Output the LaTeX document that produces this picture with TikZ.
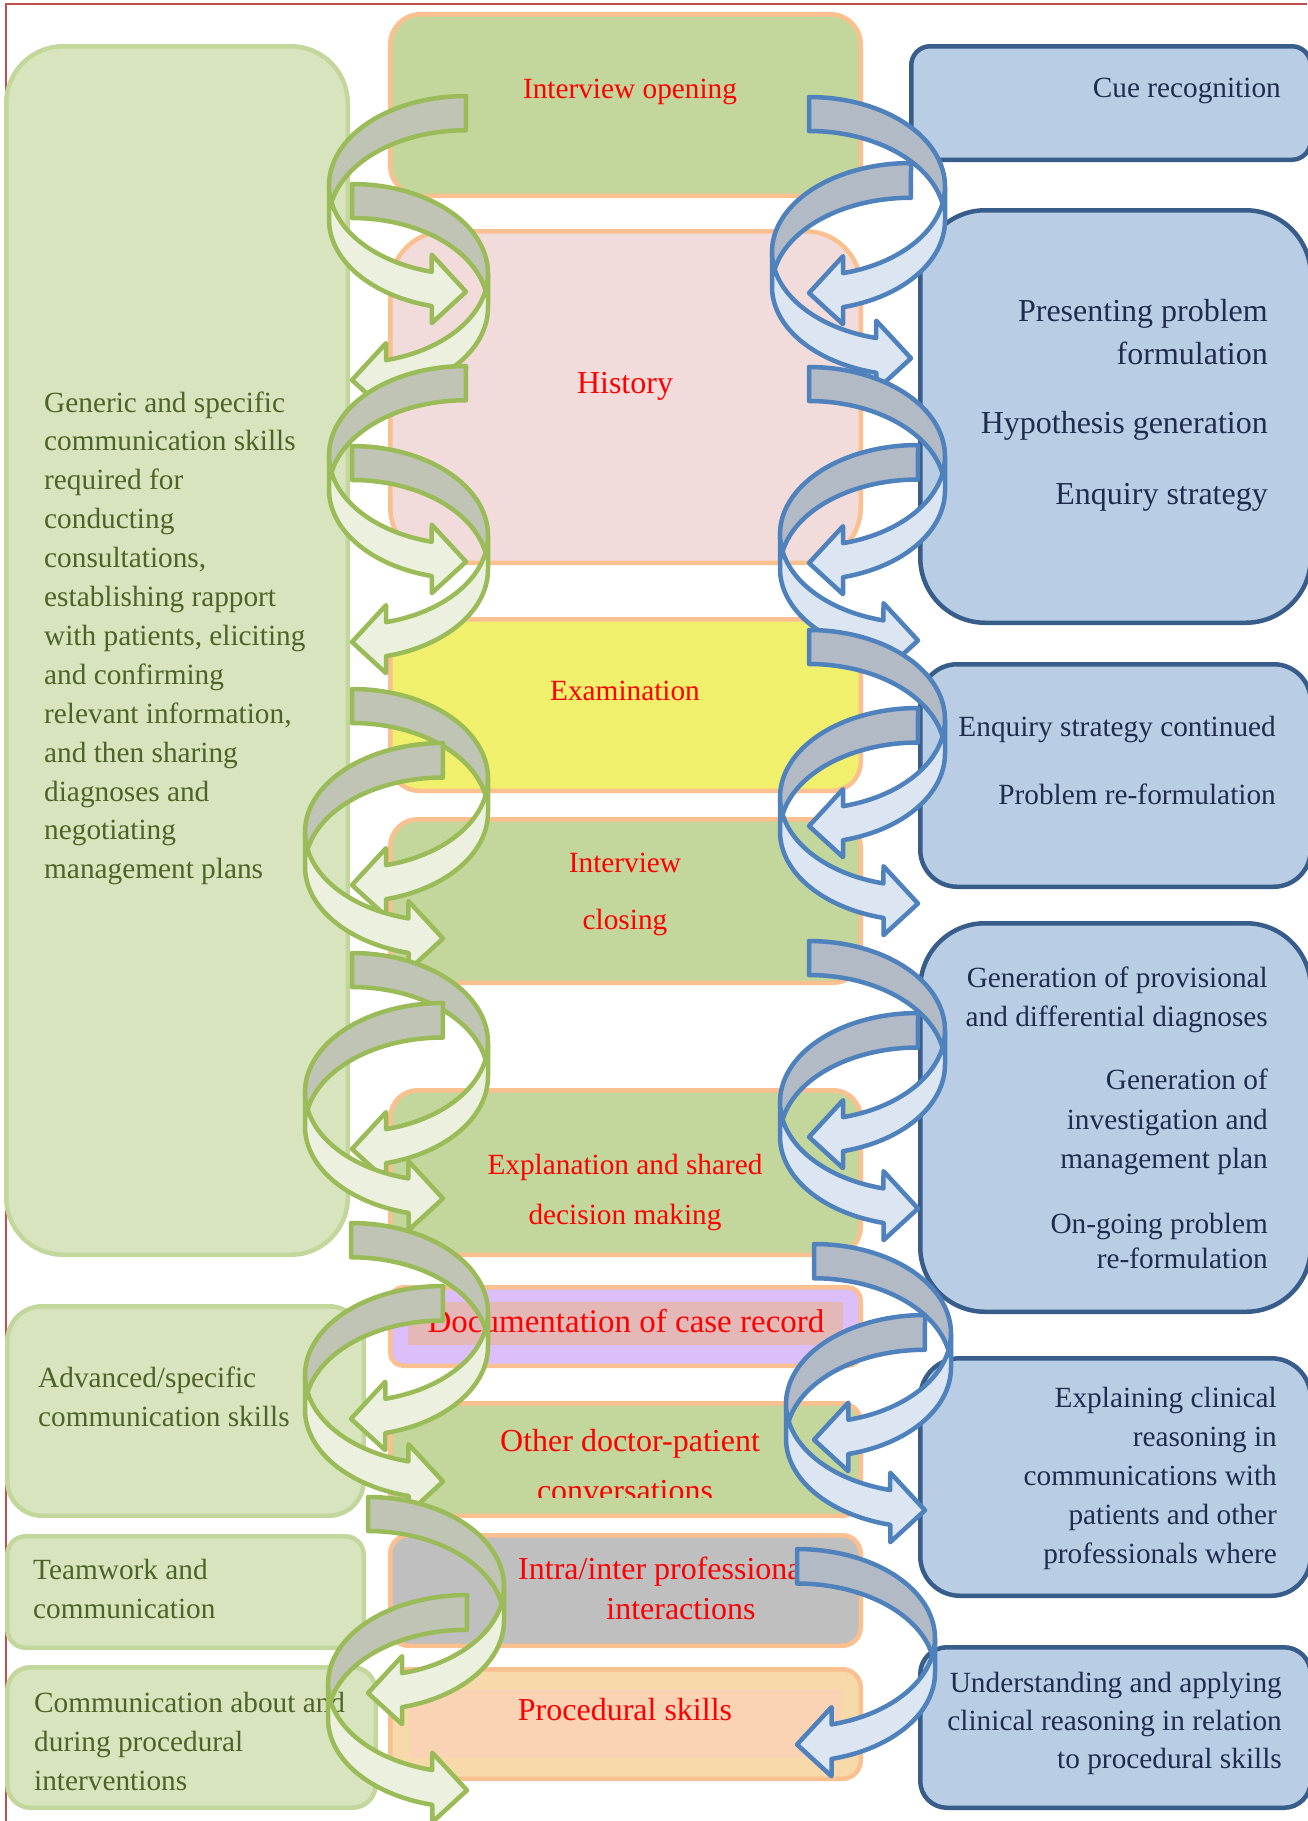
\documentclass[tikz,border=0pt]{standalone}
\usepackage{fontspec}
\setmainfont{Liberation Serif}
\definecolor{frameRed}{HTML}{C0504D}
\definecolor{lgFill}{HTML}{D7E4BD}
\definecolor{lgBorder}{HTML}{C3D69B}
\definecolor{lgText}{HTML}{4F6228}
\definecolor{cBorder}{HTML}{FAC090}
\definecolor{cGreen}{HTML}{C3D69B}
\definecolor{cPink}{HTML}{F2DCDB}
\definecolor{cYellow}{HTML}{F0F06C}
\definecolor{cLav}{HTML}{DCBEFA}
\definecolor{cLavIn}{HTML}{E5B8B8}
\definecolor{cGrey}{HTML}{BFBFBF}
\definecolor{cPeach}{HTML}{F8D9A9}
\definecolor{cPeachIn}{HTML}{FAD3B5}
\definecolor{rbFill}{HTML}{B9CDE5}
\definecolor{rbBorder}{HTML}{385D8A}
\definecolor{rbText}{HTML}{1F2D4D}
\definecolor{gF}{HTML}{EBF1DE}
\definecolor{gB}{HTML}{BFC4B4}
\definecolor{gL}{HTML}{9BBB59}
\definecolor{bF}{HTML}{DCE6F2}
\definecolor{bB}{HTML}{B1BAC5}
\definecolor{bL}{HTML}{4F81BD}
\newcommand{\fntA}{\fontsize{29.3}{35}\selectfont}
\newcommand{\fntB}{\fontsize{32}{38}\selectfont}
\newcommand{\fntC}{\fontsize{33}{39}\selectfont}
\tikzset{
 lbox/.style={draw=lgBorder, line width=4.5pt, inner sep=0pt},
 cbox/.style={draw=cBorder, line width=4.5pt, inner sep=0pt},
 rbox/.style={draw=rbBorder, line width=4.5pt, inner sep=0pt},
 ltxt/.style={text=lgText, inner sep=0pt, font=\fntA},
 ctxt/.style={text=red, inner sep=0pt, font=\fntA},
 rtxt/.style={text=rbText, inner sep=0pt, font=\fntA},
 arrline/.style={line width=4.5pt, line join=round},
}
% box node: style, fill, name, x1, y1, x2, y2 (visible extents, px)
\newcommand{\boxnode}[7]{%
 \pgfmathsetmacro\bxW{#6-#4-4.5}%
 \pgfmathsetmacro\bxH{#7-#5-4.5}%
 \pgfmathsetmacro\bxR{min(\bxW,\bxH)/6}%
 \node[#1, fill=#2, minimum width=\bxW pt, minimum height=\bxH pt, rounded corners=\bxR pt] (#3) at ({(#4+#6)/2},{(#5+#7)/2}) {};}
% curved ribbon arrow: tip x C, sign s, top T, width W, height H, colour prefix
\newcommand{\curvarrow}[6]{%
\begingroup
 \pgfmathsetmacro\aTh{0.25*#4}%
 \pgfmathsetmacro\aAw{0.5*#4}%
 \pgfmathsetmacro\aAh{0.25*#4}%
 \pgfmathsetmacro\aHR{#5/2-(\aTh+\aAw)/4}%
 \pgfmathsetmacro\aDy{\aHR*sqrt(1-(\aAh/#4)^2)}%
 \pgfmathsetmacro\aYa{#3+\aHR}%
 \pgfmathsetmacro\aYb{\aYa+\aTh}%
 \pgfmathsetmacro\aYfive{\aYa+\aDy}%
 \pgfmathsetmacro\aYseven{\aYb+\aDy}%
 \pgfmathsetmacro\aDh{(\aAw-\aTh)/2}%
 \pgfmathsetmacro\aYfour{\aYfive-\aDh}%
 \pgfmathsetmacro\aYeight{\aYseven+\aDh}%
 \pgfmathsetmacro\aYsix{#3+#5-\aAw/2}%
 \pgfmathsetmacro\aXone{#1-(#2)*\aAh}%
 \pgfmathsetmacro\aThn{180-acos(\aAh/#4)}%
 \pgfmathsetmacro\aPhi{asin(\aTh/(2*\aHR))}%
 \pgfmathsetmacro\aXl{#1-(#2)*#4}%
 \filldraw[arrline, draw=#6L, fill=#6F]
   (\aXl,\aYa) -- plot[domain=0:1,samples=40] ({#1+(#2)*#4*cos(180-\x*(180-\aThn))},{\aYa+\aHR*sin(180-\x*(180-\aThn))})
   -- (\aXone,\aYfour) -- (#1,\aYsix) -- (\aXone,\aYeight) -- (\aXone,\aYseven)
   -- plot[domain=0:1,samples=40] ({#1+(#2)*#4*cos(\aThn+\x*(180-\aThn))},{\aYb+\aHR*sin(\aThn+\x*(180-\aThn))})
   -- cycle;
 \filldraw[arrline, draw=#6L, fill=#6B]
   plot[domain=0:1,samples=40] ({#1+(#2)*#4*cos(270-\x*(90+\aPhi))},{\aYa+\aHR*sin(270-\x*(90+\aPhi))})
   -- plot[domain=0:1,samples=40] ({#1+(#2)*#4*cos(180+\aPhi+\x*(90-\aPhi))},{\aYb+\aHR*sin(180+\aPhi+\x*(90-\aPhi))})
   -- cycle;
\endgroup}
\begin{document}
\begin{tikzpicture}[x=1pt,y=-1pt]
\useasboundingbox (0,0) rectangle (1307,1821);
\fill[white] (0,0) rectangle (1307,1821);
\draw[frameRed, line width=2.5pt] (6,1821) -- (6,4) -- (1307,4);

% left boxes
\boxnode{lbox}{lgFill}{L1}{4}{44}{350}{1257}
\boxnode{lbox}{lgFill}{L2}{5}{1304}{366}{1518}
\boxnode{lbox}{lgFill}{L3}{5}{1534}{366}{1650}
\boxnode{lbox}{lgFill}{L4}{5}{1665}{378}{1810}
% centre boxes
\boxnode{cbox}{cGreen}{C1}{388}{12}{863}{198}
\boxnode{cbox}{cPink}{C2}{388}{229}{863}{565}
\boxnode{cbox}{cYellow}{C3}{388}{617}{863}{793}
\boxnode{cbox}{cGreen}{C4}{388}{817}{863}{985}
\boxnode{cbox}{cGreen}{C5}{388}{1088}{863}{1257}
\boxnode{cbox}{cLav}{C6}{388}{1285}{863}{1368}
\fill[cLavIn] (408,1302) rectangle (843,1345);
\boxnode{cbox}{cGreen}{C7}{388}{1401}{863}{1518}
\boxnode{cbox}{cGrey}{C8}{388}{1533}{863}{1648}
\boxnode{cbox}{cPeach}{C9}{388}{1667}{863}{1781}
\fill[cPeachIn] (410,1689) rectangle (841,1758);
% right boxes (their right side runs off the page)
\boxnode{rbox}{rbFill}{R1}{909}{44}{1313}{162}
\boxnode{rbox}{rbFill}{R2}{918}{208}{1313}{625}
\boxnode{rbox}{rbFill}{R3}{918}{662}{1313}{889}
\boxnode{rbox}{rbFill}{R4}{918}{921}{1313}{1314}
\boxnode{rbox}{rbFill}{R5}{918}{1356}{1313}{1598}
\boxnode{rbox}{rbFill}{R6}{918}{1645}{1313}{1810}

% left texts
\node[ltxt, anchor=base west] (l1a) at (44,412) {Generic and specific};
\node[ltxt, anchor=base west] (l1b) at (44,450.9) {communication skills};
\node[ltxt, anchor=base west] (l1c) at (44,489.8) {required for};
\node[ltxt, anchor=base west] (l1d) at (44,528.7) {conducting};
\node[ltxt, anchor=base west] (l1e) at (44,567.6) {consultations,};
\node[ltxt, anchor=base west] (l1f) at (44,606.5) {establishing rapport};
\node[ltxt, anchor=base west] (l1g) at (44,645.4) {with patients, eliciting};
\node[ltxt, anchor=base west] (l1h) at (44,684.3) {and confirming};
\node[ltxt, anchor=base west] (l1i) at (44,723.2) {relevant information,};
\node[ltxt, anchor=base west] (l1j) at (44,762.1) {and then sharing};
\node[ltxt, anchor=base west] (l1k) at (44,801) {diagnoses and};
\node[ltxt, anchor=base west] (l1l) at (44,839.9) {negotiating};
\node[ltxt, anchor=base west] (l1m) at (44,878.8) {management plans};
\node[ltxt, anchor=base west] (l2a) at (38,1387) {Advanced/specific};
\node[ltxt, anchor=base west] (l2b) at (38,1426) {communication skills};
\node[ltxt, anchor=base west] (l3a) at (33,1579) {Teamwork and};
\node[ltxt, anchor=base west] (l3b) at (33,1618) {communication};
\node[ltxt, anchor=base west] (l4a) at (34,1712) {Communication about and};
\node[ltxt, anchor=base west] (l4b) at (34,1751) {during procedural};
\node[ltxt, anchor=base west] (l4c) at (34,1790) {interventions};

% centre texts
\node[ctxt, anchor=base] (c1a) at (630,98) {Interview opening};
\node[ctxt, font=\fntB, anchor=base] (c2a) at (625,393) {History};
\node[ctxt, anchor=base] (c3a) at (625,700) {Examination};
\node[ctxt, anchor=base] (c4a) at (625,872) {Interview};
\node[ctxt, anchor=base] (c4b) at (625,929) {closing};
\node[ctxt, anchor=base] (c5a) at (625,1174) {Explanation and shared};
\node[ctxt, anchor=base] (c5b) at (625,1224) {decision making};
\node[ctxt, font=\fntC, anchor=base] (c6a) at (626,1332) {Documentation of case record};
\node[ctxt, font=\fntB, anchor=base] (c7a) at (630,1451) {Other doctor-patient};
\begin{scope}
\clip (388,1400) rectangle (863,1497);
\node[ctxt, font=\fntB, anchor=base] (c7b) at (625,1501) {conversations};
\end{scope}
\node[ctxt, font=\fntB, anchor=base west] (c8a) at (518,1579) {Intra/inter professional};
\node[ctxt, font=\fntB, anchor=base] (c8b) at (681,1619) {interactions};
\node[ctxt, font=\fntB, anchor=base] (c9a) at (625,1720) {Procedural skills};

% right texts
\node[rtxt, anchor=base east] (r1a) at (1281,97) {Cue recognition};
\node[rtxt, font=\fntB, anchor=base east] (r2a) at (1268,321) {Presenting problem};
\node[rtxt, font=\fntB, anchor=base east] (r2b) at (1268,364) {formulation};
\node[rtxt, font=\fntB, anchor=base east] (r2c) at (1268,433) {Hypothesis generation};
\node[rtxt, font=\fntB, anchor=base east] (r2d) at (1268,504) {Enquiry strategy};
\node[rtxt, anchor=base east] (r3a) at (1276,736) {Enquiry strategy continued};
\node[rtxt, anchor=base east] (r3b) at (1276,804) {Problem re-formulation};
\node[rtxt, anchor=base east] (r4a) at (1268,987) {Generation of provisional};
\node[rtxt, anchor=base east] (r4b) at (1268,1026) {and differential diagnoses};
\node[rtxt, anchor=base east] (r4c) at (1268,1089) {Generation of};
\node[rtxt, anchor=base east] (r4d) at (1268,1129) {investigation and};
\node[rtxt, anchor=base east] (r4e) at (1268,1168) {management plan};
\node[rtxt, anchor=base east] (r4f) at (1268,1233) {On-going problem};
\node[rtxt, anchor=base east] (r4g) at (1268,1268) {re-formulation};
\node[rtxt, anchor=base east] (r5a) at (1277,1407) {Explaining clinical};
\node[rtxt, anchor=base east] (r5b) at (1277,1446) {reasoning in};
\node[rtxt, anchor=base east] (r5c) at (1277,1485) {communications with};
\node[rtxt, anchor=base east] (r5d) at (1277,1524) {patients and other};
\node[rtxt, anchor=base east] (r5e) at (1277,1563) {professionals where};
\node[rtxt, anchor=base east] (r6a) at (1282,1692) {Understanding and applying};
\node[rtxt, anchor=base east] (r6b) at (1282,1730) {clinical reasoning in relation};
\node[rtxt, anchor=base east] (r6c) at (1282,1768) {to procedural skills};

% left (green) ribbon arrows
\curvarrow{466}{1}{96}{137}{230}{g}
\curvarrow{352}{-1}{184}{136}{230}{g}
\curvarrow{466}{1}{366}{137}{230}{g}
\curvarrow{352}{-1}{446}{136}{230}{g}
\curvarrow{352}{-1}{689}{136}{230}{g}
\curvarrow{443}{1}{743}{138}{230}{g}
\curvarrow{352}{-1}{953}{136}{230}{g}
\curvarrow{443}{1}{1003}{138}{230}{g}
\curvarrow{351}{-1}{1223}{137}{230}{g}
\curvarrow{443}{1}{1286}{138}{230}{g}
\curvarrow{368}{-1}{1497}{136}{230}{g}
\curvarrow{467}{1}{1595}{139}{230}{g}

% right (blue) ribbon arrows
\curvarrow{809}{-1}{97}{136}{230}{b}
\curvarrow{911}{1}{163}{139}{230}{b}
\curvarrow{809}{-1}{367}{136}{230}{b}
\curvarrow{918}{1}{445}{138}{230}{b}
\curvarrow{809}{-1}{630}{136}{230}{b}
\curvarrow{918}{1}{708}{138}{230}{b}
\curvarrow{809}{-1}{941}{136}{230}{b}
\curvarrow{918}{1}{1013}{138}{230}{b}
\curvarrow{814}{-1}{1244}{137}{230}{b}
\curvarrow{925}{1}{1315}{139}{230}{b}
\curvarrow{797}{-1}{1549}{138}{230}{b}
\end{tikzpicture}
\end{document}
